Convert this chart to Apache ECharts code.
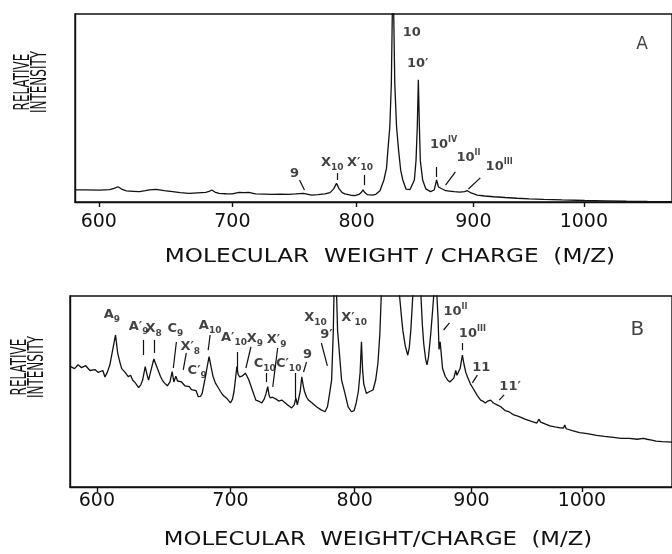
<!DOCTYPE html>
<html>
<head>
<meta charset="utf-8">
<script src="https://cdn.jsdelivr.net/npm/echarts@6/dist/echarts.min.js"></script>
<style>
html, body { margin: 0; padding: 0; background: #fff; }
#chart { width: 672px; height: 554px; }
</style>
</head>
<body>
<div id="chart"></div>
<script>
// m/z tick labels (axis is sqrt(m/z), time-of-flight style)
const ticks = [600, 700, 800, 900, 1000];

// spectrum A : m/z and relative intensity (0-100 = plot height)
const mzA = [583, 590, 600.7, 607.9, 611, 613.9, 616.5, 620, 625, 629.7, 634, 637, 642, 648, 654.3, 660, 666.8, 673, 679.5, 682,
  684.1, 686.5, 689.6, 695, 699.9, 705.1, 709, 712.8, 718.1, 725, 731.1, 738, 744.4, 750, 756.4, 763, 768, 773.9, 778, 781,
  783.3, 785.5, 788, 790.2, 795, 798.5, 802, 804, 805.3, 806.8, 809, 813, 816, 819.5, 822.8, 825, 826.2, 827.8, 829.1, 829.9,
  830.5, 831.1, 832, 833.5, 835.2, 837, 838.8, 841.6, 845, 848.7, 850.1, 851.2, 852.1, 853, 853.8, 855.8, 858.5, 862.6, 865.8, 867.8,
  869.5, 871.5, 875.8, 879, 883.1, 888, 892.3, 894.7, 898, 903.4, 910, 918.1, 928, 938.9, 950, 962.9, 980, 1000.7, 1020, 1039.9,
  1060, 1084];
const intA = [6.4, 6.5, 6.3, 6.6, 7.2, 8.1, 6.9, 5.9, 5.7, 5.5, 6.0, 6.4, 6.7, 6.0, 5.5, 5.0, 4.6, 4.9, 5.1, 5.6,
  6.4, 5.3, 4.6, 4.4, 4.3, 5.1, 5.0, 5.1, 4.3, 4.2, 4.1, 4.2, 4.1, 4.3, 4.6, 3.7, 3.9, 4.3, 5.0, 7.0,
  9.9, 7.0, 5.0, 4.3, 3.6, 3.4, 4.0, 5.2, 6.4, 5.0, 3.9, 3.7, 4.1, 6.0, 11.7, 18, 27.7, 40, 63, 100,
  140, 100, 63, 40, 27.7, 17, 11.7, 6.8, 6.6, 11.7, 22, 40, 65, 40, 22, 11.7, 7.0, 5.5, 6.4, 11.7,
  8.0, 7.3, 6.0, 5.8, 5.5, 5.3, 5.5, 6.0, 4.8, 3.7, 3.2, 2.8, 2.4, 2.0, 1.7, 1.4, 1.1, 0.8, 0.6, 0.4,
  0.3, 0.2];

// spectrum B
const mzB = [581.3, 584, 586.5, 589, 592, 595, 598.6, 601, 604.3, 605.8, 607.5, 609.4, 611.5, 613.5, 615.1, 616.8, 618, 620.5, 622.8, 624.5,
  626, 628, 630.4, 632, 633.4, 635.3, 636.6, 637.8, 639.2, 641.7, 644.4, 646.6, 648, 649.6, 651.8, 653.8, 655.4, 656.7, 658.2, 659.5,
  660.8, 662.5, 663.8, 665, 666.1, 668.4, 670, 671.4, 673.5, 675.2, 677, 678.2, 680.5, 682.3, 683.5, 685, 686.5, 688.3, 690.1, 692.3,
  694.3, 697, 700, 701.6, 702.8, 704, 705, 706, 707.2, 709, 711.6, 713, 714.4, 716.5, 719.9, 722, 724.6, 726.5, 728, 729.3,
  730.4, 731.4, 733, 734.1, 736, 738, 740.5, 743.3, 746, 748.4, 750.5, 751.8, 753, 754, 755.3, 756.6, 757.8, 758.8, 760.5, 762,
  765, 768.5, 772, 775.5, 777.5, 779, 780.9, 782.3, 783.1, 783.7, 784.6, 785.8, 789.1, 791.9, 794.5, 797.3, 799.5, 801.2, 803, 804.5,
  805.6, 806.5, 807.5, 809.7, 812.5, 815.3, 817.5, 819.4, 821, 822.2, 826, 830, 834, 837.7, 839.5, 840.5, 842.5, 844.7, 846, 847.3,
  849, 852.4, 856, 857.2, 858.4, 860, 861.2, 862.5, 864.4, 866, 867, 868.2, 869.8, 870.8, 871.6, 872.6, 874.7, 877, 879, 881,
  882.5, 884.5, 886.2, 887.2, 888.2, 890, 892, 893.5, 895, 896.4, 899, 902.3, 905, 908.1, 910, 912.2, 914.5, 916.9, 919.5, 922.8,
  926, 929.9, 933, 937.7, 942, 947.8, 953, 958.6, 960.4, 962, 966, 970.4, 975, 980, 983, 984.1, 985.5, 991, 997.9, 1005,
  1013.7, 1021, 1029.5, 1037, 1044.6, 1052, 1058, 1059.7, 1061.5, 1066, 1070.2, 1076, 1086];
const intB = [63, 62, 64, 62.5, 63.5, 61, 61.5, 60, 61, 57.6, 60, 64, 72, 79.6, 70, 65, 62, 60, 57.8, 58.5,
  56, 54.5, 52, 53.5, 56, 63, 59, 56, 60, 67, 62, 58, 56, 54.5, 53, 55, 60.4, 55, 58, 55.5,
  54.5, 55, 56, 53, 52, 52.5, 51, 50, 50.5, 47.3, 47.5, 49, 57, 64, 68.2, 63, 58, 54.5, 52.5, 50,
  48, 46.5, 44, 46, 50, 57, 63, 59, 57.6, 58, 59.6, 58, 56, 52, 45.5, 45, 44, 46, 49, 52.5,
  48, 46.6, 47, 48, 46, 45, 45.5, 44, 42.5, 41.4, 43, 46.6, 43, 43, 50, 57.7, 53, 50, 47, 45.5,
  44, 42, 40.5, 39.4, 42, 48, 56, 82, 110, 140, 110, 82, 56, 49, 42, 39.4, 40, 44, 50, 60,
  76, 62, 54, 49, 50, 50.8, 56, 64.8, 80, 100, 130, 160, 130, 100, 88, 82, 74, 69, 73, 82,
  100, 150, 100, 85, 75, 67, 64, 68, 80, 92, 100, 120, 100, 88, 72, 76, 62, 58, 56, 55,
  54.4, 57, 61, 58.5, 58, 62, 69, 64, 60, 57.7, 54, 50.8, 48, 45.5, 45, 44, 45, 45.5, 44, 43,
  42, 40, 39.5, 37.7, 37, 35.5, 34.5, 33.5, 35.5, 34, 33, 32, 31.5, 31, 30.9, 32.5, 30.5, 29.5, 28.5, 28,
  27, 26.5, 26, 25.5, 25.5, 25, 25.5, 26.5, 25, 24.5, 24, 23.8, 23.5];

// peak labels, panel A: text, m/z, intensity
const labTextA = ['10', "10′", '10{u|IV}', '10{u|II}', '10{u|III}', '9', 'X{s|10}', "X′{s|10}"];
const labMzA = [846.5, 851.6, 873.9, 895.6, 922.8, 749.2, 779.9, 802.8];
const labIntA = [89.9, 73.4, 30.3, 23.4, 18.6, 14.9, 20.7, 20.7];
// leader lines, panel A: [mz1, int1, mz2, int2]
const leadA = [[867.8, 18.6, 867.8, 13.3], [884.2, 16, 875.6, 9.0], [906.1, 12.8, 895.6, 6.9],
  [753.2, 11.7, 757.2, 6.4], [784.0, 15.4, 784.0, 11.7], [806.2, 14.4, 806.2, 9.0]];

// peak labels, panel B
const labTextB = ['A{s|9}', "A′{s|9}", 'X{s|8}', 'C{s|9}', "X′{s|8}", "C′{s|9}", 'A{s|10}', "A′{s|10}", 'X{s|9}', 'C{s|10}',
  "X′{s|9}", "C′{s|10}", '9', 'X{s|10}', "9′", "X′{s|10}", '10{u|II}', '10{u|III}', '11', "11′"];
const labMzB = [610.8, 630.4, 641.5, 657.8, 669.1, 674.4, 684.3, 702.8, 719.1, 727.0,
  736.4, 746.0, 761.2, 767.7, 776.6, 799.5, 886.0, 900.8, 908.7, 934.4];
const labIntB = [90.1, 83.8, 82.7, 82.7, 73.3, 60.7, 84.3, 78.0, 77.5, 64.4,
  77.0, 64.4, 69.1, 88.5, 79.6, 88.5, 91.6, 80.1, 62.3, 52.4];
const leadB = [[634.1, 77.0, 634.1, 69.1], [642.2, 77.0, 642.2, 70.2], [658.6, 75.9, 656.3, 62.3], [666.1, 70.2, 663.8, 61.3],
  [684.3, 79.6, 682.8, 71.7], [705.1, 70.7, 705.1, 61.3], [716.0, 73.3, 712.1, 62.3], [728.5, 59.7, 728.5, 55.0],
  [737.2, 72.8, 733.3, 52.4], [751.6, 59.7, 751.6, 46.6], [760.4, 65.4, 758.0, 60.2], [772.5, 75.4, 777.4, 63.4],
  [880.7, 85.9, 875.6, 82.2], [892.0, 75.4, 892.0, 71.7], [905.2, 58.6, 900.8, 54.5], [929.0, 48.2, 924.6, 45.5]];

// panel letters
const panelText = ['A', 'B'];
const panelMz = [1054.9, 1052.2];
const panelInt = [84, 82.2];

// axis ranges in m/z
const rangeA = [583.0, 1083.6];
const rangeB = [580.8, 1085.5];

const sx = m => Math.sqrt(m);
const ink = '#111';
const font = 'DejaVu Sans';

function xAxisOf(gi, range, margin) {
  return {
    type: 'value', gridIndex: gi, min: sx(range[0]), max: sx(range[1]),
    axisLine: { show: true, lineStyle: { color: ink, width: 1.4 } },
    axisTick: { show: true, length: 5, customValues: ticks.map(sx), lineStyle: { color: ink, width: 1.4 } },
    axisLabel: { customValues: ticks.map(sx), formatter: v => String(Math.round(v * v)),
      color: ink, fontSize: 19, fontFamily: font, margin: margin },
    splitLine: { show: false }
  };
}
function yAxisOf(gi) {
  return {
    type: 'value', gridIndex: gi, min: 0, max: 100,
    axisLine: { show: true, lineStyle: { color: ink, width: 1.4 } },
    axisTick: { show: false }, axisLabel: { show: false }, splitLine: { show: false }
  };
}
const rich = {
  s: { fontSize: 9, lineHeight: 10, verticalAlign: 'bottom', fontWeight: 'bold', fontFamily: font, color: ink },
  u: { fontSize: 8, lineHeight: 9, verticalAlign: 'top', fontWeight: 'bold', fontFamily: font, color: ink }
};
function labelSeries(gi, texts, mzs, ints, leads) {
  return {
    type: 'scatter', xAxisIndex: gi, yAxisIndex: gi, symbolSize: 1, silent: true,
    itemStyle: { color: 'rgba(0,0,0,0)' },
    data: texts.map((t, i) => ({ value: [sx(mzs[i]), ints[i]], name: t })),
    label: { show: true, position: 'inside', formatter: p => p.name, color: ink, fontSize: 13,
      fontWeight: 'bold', fontFamily: font, lineHeight: 18, rich: rich },
    markLine: {
      silent: true, symbol: ['none', 'none'], label: { show: false },
      lineStyle: { color: ink, width: 1.2, type: 'solid' },
      data: leads.map(l => [{ coord: [sx(l[0]), l[1]] }, { coord: [sx(l[2]), l[3]] }])
    }
  };
}
function specSeries(gi, mz, inten) {
  return {
    type: 'line', xAxisIndex: gi, yAxisIndex: gi, symbol: 'none', clip: true,
    lineStyle: { color: ink, width: 1.3 },
    data: mz.map((m, i) => [sx(m), inten[i]])
  };
}

const chart = echarts.init(document.getElementById('chart'));
chart.setOption({
  animation: false,
  grid: [
    { left: 75, top: 14, right: -4, height: 188, show: true, borderColor: ink, borderWidth: 1.4 },
    { left: 70, top: 296, right: -4, height: 191, show: true, borderColor: ink, borderWidth: 1.4 }
  ],
  xAxis: [xAxisOf(0, rangeA, 11), xAxisOf(1, rangeB, 5)],
  yAxis: [yAxisOf(0), yAxisOf(1)],
  series: [
    specSeries(0, mzA, intA),
    specSeries(1, mzB, intB),
    labelSeries(0, labTextA, labMzA, labIntA, leadA),
    labelSeries(1, labTextB, labMzB, labIntB, leadB),
    {
      type: 'scatter', xAxisIndex: 0, yAxisIndex: 0, symbolSize: 1, silent: true,
      itemStyle: { color: 'rgba(0,0,0,0)' },
      data: [{ value: [sx(panelMz[0]), panelInt[0]], name: panelText[0] }],
      label: { show: true, position: 'inside', formatter: p => p.name, color: ink, fontSize: 17, fontFamily: font }
    },
    {
      type: 'scatter', xAxisIndex: 1, yAxisIndex: 1, symbolSize: 1, silent: true,
      itemStyle: { color: 'rgba(0,0,0,0)' },
      data: [{ value: [sx(panelMz[1]), panelInt[1]], name: panelText[1] }],
      label: { show: true, position: 'inside', formatter: p => p.name, color: ink, fontSize: 20, fontFamily: font }
    }
  ],
  graphic: [
    { type: 'text', x: 32, y: 82, rotation: Math.PI / 2, scaleY: 1.7,
      style: { text: 'RELATIVE\nINTENSITY', font: '12px "DejaVu Sans"', fill: ink, align: 'center', verticalAlign: 'middle', lineHeight: 10 } },
    { type: 'text', x: 29, y: 367, rotation: Math.PI / 2, scaleY: 1.7,
      style: { text: 'RELATIVE\nINTENSITY', font: '12px "DejaVu Sans"', fill: ink, align: 'center', verticalAlign: 'middle', lineHeight: 10 } },
    { type: 'text', x: 390, y: 257, scaleX: 1.22,
      style: { text: 'MOLECULAR  WEIGHT / CHARGE  (M/Z)', font: '19px "DejaVu Sans"', fill: ink, align: 'center', verticalAlign: 'middle' } },
    { type: 'text', x: 378, y: 540, scaleX: 1.2,
      style: { text: 'MOLECULAR  WEIGHT/CHARGE  (M/Z)', font: '19px "DejaVu Sans"', fill: ink, align: 'center', verticalAlign: 'middle' } }
  ]
});
</script>
</body>
</html>
